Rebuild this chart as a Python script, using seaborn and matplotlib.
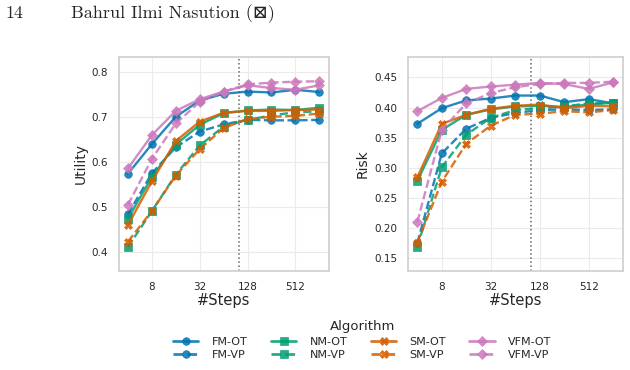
import numpy as np
import matplotlib.pyplot as plt
import seaborn as sns
import pandas as pd
from matplotlib.ticker import FixedLocator, FixedFormatter, NullLocator

sns.set_theme(style="whitegrid")

steps = [4, 8, 16, 32, 64, 128, 256, 512, 1024]
algorithms = ["FM-OT", "FM-VP", "NM-OT", "NM-VP", "SM-OT", "SM-VP", "VFM-OT", "VFM-VP"]

utility = {
    "FM-OT": [0.573, 0.639, 0.700, 0.736, 0.751, 0.756, 0.754, 0.760, 0.755],
    "FM-VP": [0.483, 0.574, 0.632, 0.667, 0.683, 0.693, 0.692, 0.692, 0.693],
    "NM-OT": [0.473, 0.566, 0.638, 0.682, 0.708, 0.714, 0.716, 0.715, 0.720],
    "NM-VP": [0.410, 0.490, 0.571, 0.636, 0.678, 0.693, 0.703, 0.710, 0.712],
    "SM-OT": [0.459, 0.556, 0.646, 0.689, 0.709, 0.713, 0.713, 0.715, 0.716],
    "SM-VP": [0.422, 0.490, 0.569, 0.628, 0.675, 0.695, 0.700, 0.702, 0.707],
    "VFM-OT": [0.585, 0.659, 0.713, 0.739, 0.756, 0.770, 0.764, 0.760, 0.770],
    "VFM-VP": [0.504, 0.606, 0.685, 0.733, 0.756, 0.772, 0.776, 0.778, 0.779],
}

risk = {
    "FM-OT": [0.373, 0.399, 0.412, 0.415, 0.420, 0.420, 0.409, 0.414, 0.407],
    "FM-VP": [0.175, 0.324, 0.365, 0.383, 0.391, 0.396, 0.397, 0.396, 0.397],
    "NM-OT": [0.278, 0.363, 0.388, 0.397, 0.402, 0.403, 0.401, 0.405, 0.408],
    "NM-VP": [0.169, 0.301, 0.355, 0.383, 0.396, 0.399, 0.402, 0.407, 0.408],
    "SM-OT": [0.284, 0.373, 0.388, 0.398, 0.403, 0.405, 0.399, 0.403, 0.402],
    "SM-VP": [0.176, 0.277, 0.340, 0.370, 0.388, 0.390, 0.394, 0.392, 0.396],
    "VFM-OT": [0.394, 0.416, 0.431, 0.435, 0.438, 0.441, 0.439, 0.431, 0.442],
    "VFM-VP": [0.210, 0.363, 0.407, 0.424, 0.434, 0.439, 0.441, 0.441, 0.443],
}

xticks = [8, 32, 128, 512]
cutoff = 100

colores = {"FM": "#0173b2", "NM": "#029e73", "SM": "#d55e00", "VFM": "#cc78bc"}
marcas = {"FM": "o", "NM": "s", "SM": "X", "VFM": "D"}
palette = {a: colores[a.split("-")[0]] for a in algorithms}
markers = {a: marcas[a.split("-")[0]] for a in algorithms}
dashes = {a: ("" if a.endswith("OT") else (3.5, 1.5)) for a in algorithms}


def a_largo(tabla, nombre):
    filas = []
    for a in algorithms:
        for s, v in zip(steps, tabla[a]):
            filas.append({"#Steps": s, nombre: v, "Algorithm": a})
    return pd.DataFrame(filas)


fig = plt.figure(figsize=(6.3, 3.7), dpi=100)
ax1 = fig.add_axes([0.189, 0.268, 0.333, 0.578])
ax2 = fig.add_axes([0.648, 0.268, 0.341, 0.578])

for ax, tabla, nombre, lim, yt in [
    (ax1, utility, "Utility", (0.357, 0.833), [0.4, 0.5, 0.6, 0.7, 0.8]),
    (ax2, risk, "Risk", (0.129, 0.484), [0.15, 0.20, 0.25, 0.30, 0.35, 0.40, 0.45]),
]:
    df = a_largo(tabla, nombre)
    sns.lineplot(data=df, x="#Steps", y=nombre, hue="Algorithm", style="Algorithm",
                 hue_order=algorithms, style_order=algorithms, palette=palette,
                 markers=markers, dashes=dashes, linewidth=1.7, markersize=5.5,
                 markeredgewidth=0.5, alpha=0.85, ax=ax)
    for ln in ax.get_lines():
        ln.set_markeredgecolor(ln.get_color())
    ax.set_xscale("log", base=2)
    ax.set_xlim(2 ** 1.63, 2 ** 10.4)
    ax.xaxis.set_major_locator(FixedLocator(xticks))
    ax.xaxis.set_major_formatter(FixedFormatter([str(t) for t in xticks]))
    ax.xaxis.set_minor_locator(NullLocator())
    ax.set_ylim(*lim)
    ax.set_yticks(yt)
    ax.set_yticklabels([f"{t:.1f}" if nombre == "Utility" else f"{t:.2f}" for t in yt])
    ax.axvline(cutoff, color="#666666", linestyle=":", linewidth=1.1, zorder=1)
    ax.tick_params(labelsize=7.5, pad=2)
    ax.set_xlabel("#Steps", fontsize=10.5, labelpad=1)
    ax.set_ylabel(nombre, fontsize=10, labelpad=3)
    ax.grid(color="#ebebeb", linewidth=0.8)
    for sp in ax.spines.values():
        sp.set_color("#d0d0d0")
    ax.get_legend().remove()

handles, labels = ax1.get_legend_handles_labels()
for h in handles:
    h.set_markeredgecolor(h.get_color())
    h.set_markeredgewidth(0.5)
    h.set_markersize(5.5)
    h.set_linewidth(2.0)
fig.legend(handles, labels, title="Algorithm", ncol=4, loc="lower center",
           bbox_to_anchor=(0.575, 0.0), frameon=False, fontsize=8,
           title_fontsize=9.5, columnspacing=2.1, handlelength=2.3,
           labelspacing=0.3, handletextpad=1.2)

fig.text(0.008, 0.963, "14", family=["cmr10", "DejaVu Serif"], fontsize=13, va="center")
fig.text(0.113, 0.963, "Bahrul Ilmi Nasution (\u22a0)", family=["cmr10", "DejaVu Serif"],
         fontsize=13, va="center")

fig.savefig("out.png", dpi=100)
